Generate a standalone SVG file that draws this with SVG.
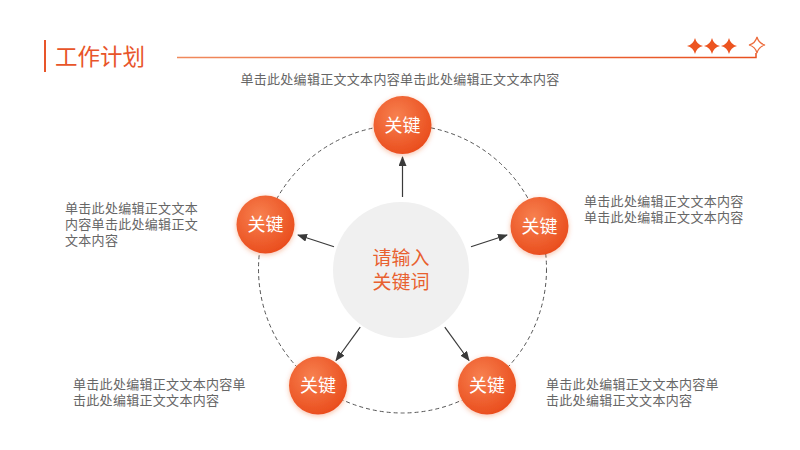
<svg xmlns="http://www.w3.org/2000/svg" width="800" height="450" viewBox="0 0 800 450">
<defs>
<style>
.t{font-family:"Noto Sans CJK SC","Noto Sans",sans-serif;font-size:13px;letter-spacing:0.3px;fill:#666666}
.k{font-family:"Noto Sans CJK SC","Noto Sans",sans-serif;font-size:18px;fill:#ffffff;text-anchor:middle}
.c{font-family:"Noto Sans CJK SC","Noto Sans",sans-serif;font-size:19px;fill:#e8602f;text-anchor:middle}
.arr{stroke:#3a3a3a;stroke-width:1.2;fill:none;marker-end:url(#ah)}
</style>
<radialGradient id="ng" cx="0.4" cy="0.35" r="0.7">
<stop offset="0" stop-color="#f7804f"/>
<stop offset="1" stop-color="#e94b1b"/>
</radialGradient>
<linearGradient id="lg" x1="0" y1="0" x2="1" y2="0">
<stop offset="0" stop-color="#f08a5d"/>
<stop offset="1" stop-color="#e8501f"/>
</linearGradient>
<filter id="sh" x="-40%" y="-40%" width="180%" height="180%">
<feDropShadow dx="0" dy="1.5" stdDeviation="2.5" flood-color="#e8501f" flood-opacity="0.35"/>
</filter>
<marker id="ah" markerWidth="10" markerHeight="8" refX="9" refY="4" orient="auto" markerUnits="userSpaceOnUse">
<path d="M0,0 L10,4 L0,8 Z" fill="#3a3a3a"/>
</marker>
<path id="star4" d="M0,-8 Q1.6,-1.6 8,0 Q1.6,1.6 0,8 Q-1.6,1.6 -8,0 Q-1.6,-1.6 0,-8 Z"/>
</defs>
<rect width="800" height="450" fill="#ffffff"/>
<g id="header">
<rect x="44" y="40" width="2" height="32" fill="#e8552a"/>
<text x="55" y="65" style="font-family:'Noto Sans CJK SC','Noto Sans',sans-serif;font-size:22.5px;fill:#e8552a">工作计划</text>
<path d="M177,57.5 H756 V53" stroke="url(#lg)" stroke-width="1.5" fill="none"/>
<use href="#star4" x="695" y="46" fill="#ec5420"/>
<use href="#star4" x="712" y="46" fill="#ec5420"/>
<use href="#star4" x="729" y="46" fill="#ec5420"/>
<use href="#star4" x="757" y="45" fill="#ffffff" stroke="#ec6a3a" stroke-width="1.2"/>
</g>
<g id="ring">
<circle cx="402.5" cy="269" r="144" fill="none" stroke="#555" stroke-width="1" stroke-dasharray="4,3"/>
</g>
<g id="connectors">
<line class="arr" x1="402.5" y1="197" x2="402.5" y2="157"/>
<line class="arr" x1="334" y1="246.7" x2="298" y2="235"/>
<line class="arr" x1="471" y1="246.7" x2="507" y2="235"/>
<line class="arr" x1="360.2" y1="327.2" x2="336" y2="360.5"/>
<line class="arr" x1="444.8" y1="327.2" x2="469" y2="360.5"/>
</g>
<g id="center">
<circle cx="401" cy="270" r="68" fill="#f0f0f0"/>
<text class="c" x="401" y="265">请输入</text>
<text class="c" x="401" y="289">关键词</text>
</g>
<g id="node-top">
<circle cx="402.5" cy="125" r="29" fill="url(#ng)" filter="url(#sh)"/>
<text class="k" x="402.5" y="131.5">关键</text>
</g>
<g id="node-left">
<circle cx="265.5" cy="224.5" r="29" fill="url(#ng)" filter="url(#sh)"/>
<text class="k" x="265.5" y="231">关键</text>
</g>
<g id="node-right">
<circle cx="539.5" cy="226" r="29" fill="url(#ng)" filter="url(#sh)"/>
<text class="k" x="539.5" y="232.5">关键</text>
</g>
<g id="node-bl">
<circle cx="318" cy="385.5" r="29" fill="url(#ng)" filter="url(#sh)"/>
<text class="k" x="318" y="392">关键</text>
</g>
<g id="node-br">
<circle cx="487" cy="385.5" r="29" fill="url(#ng)" filter="url(#sh)"/>
<text class="k" x="487" y="392">关键</text>
</g>
<g id="texts">
<text class="t" x="400" y="84" text-anchor="middle">单击此处编辑正文文本内容单击此处编辑正文文本内容</text>
<text class="t" x="65" y="213">单击此处编辑正文文本</text>
<text class="t" x="65" y="229">内容单击此处编辑正文</text>
<text class="t" x="65" y="245">文本内容</text>
<text class="t" x="584" y="206">单击此处编辑正文文本内容</text>
<text class="t" x="584" y="222">单击此处编辑正文文本内容</text>
<text class="t" x="73" y="389">单击此处编辑正文文本内容单</text>
<text class="t" x="73" y="405">击此处编辑正文文本内容</text>
<text class="t" x="546" y="389">单击此处编辑正文文本内容单</text>
<text class="t" x="546" y="405">击此处编辑正文文本内容</text>
</g>
</svg>
